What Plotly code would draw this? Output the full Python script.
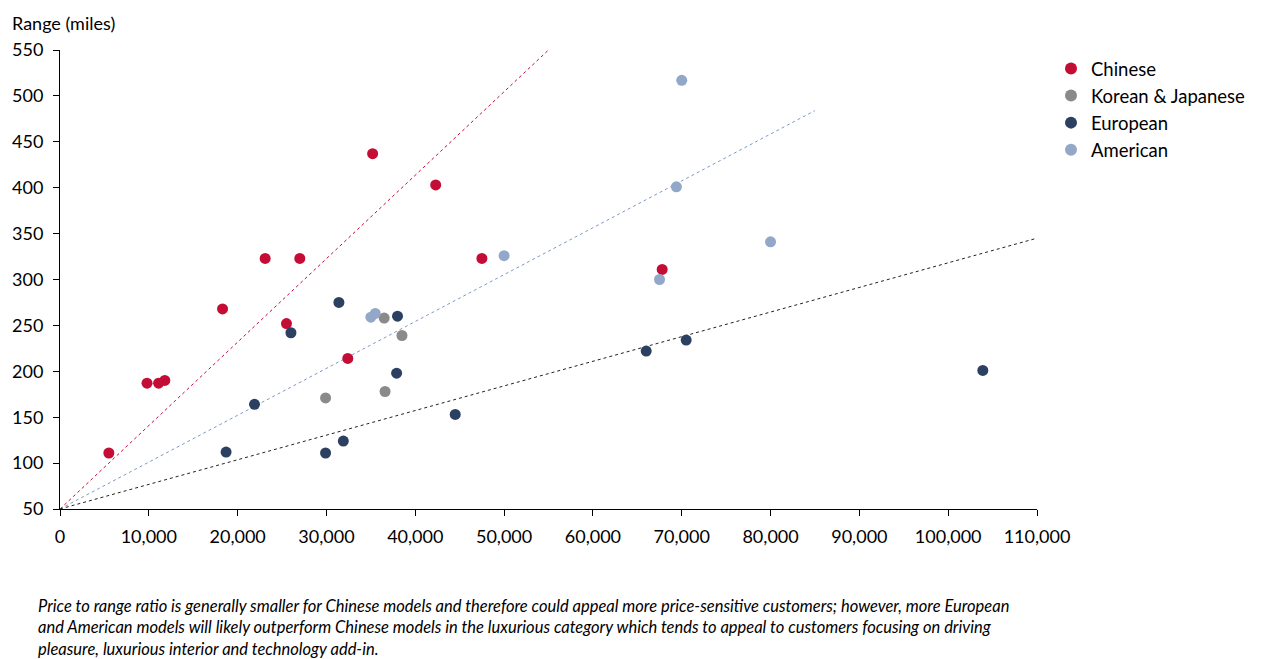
import plotly.graph_objects as go

# ---- data ----
chinese_price = [5500, 9800, 11100, 11800, 18300, 23100, 27000, 25500, 35200, 32400, 42300, 47500, 67800]
chinese_range = [111, 187, 187, 190, 268, 323, 323, 252, 437, 214, 403, 323, 311]

kj_price = [29900, 36500, 38500, 36600]
kj_range = [171, 258, 239, 178]

eu_price = [18700, 21900, 26000, 31400, 29900, 31900, 38000, 37900, 44500, 66000, 70500, 103900]
eu_range = [112, 164, 242, 275, 111, 124, 260, 198, 153, 222, 234, 201]

us_price = [35000, 35500, 50000, 70000, 69400, 80000, 67500]
us_range = [259, 263, 326, 517, 401, 341, 300]

# trend lines (start, end)
chinese_line_x = [0, 55000]
chinese_line_y = [50, 550]
us_line_x = [0, 85000]
us_line_y = [50, 484]
overall_line_x = [0, 110000]
overall_line_y = [50, 345]

x_ticks = list(range(0, 110001, 10000))
y_ticks = list(range(50, 551, 50))

footnote = ("Price to range ratio is generally smaller for Chinese models and therefore could appeal more price-sensitive customers; however, more European<br>"
            "and American models will likely outperform Chinese models in the luxurious category which tends to appeal to customers focusing on driving<br>"
            "pleasure, luxurious interior and technology add-in.")

RED = "#C30D35"
GRAY = "#8A8A8A"
NAVY = "#2C4162"
LBLUE = "#93A8C8"
FONT = "Lato"

# page body has an 8px margin, so the figure is drawn 8px smaller and shifted
W, H = 1253, 651
L, R, T, B = 52, 224, 42, 150
PW = W - L - R
PH = H - T - B

fig = go.Figure()

fig.add_trace(go.Scatter(x=chinese_line_x, y=chinese_line_y, mode="lines",
                         line=dict(color=RED, width=1, dash="dot"), showlegend=False, hoverinfo="skip"))
fig.add_trace(go.Scatter(x=us_line_x, y=us_line_y, mode="lines",
                         line=dict(color="#8099C4", width=1, dash="dot"), showlegend=False, hoverinfo="skip"))
fig.add_trace(go.Scatter(x=overall_line_x, y=overall_line_y, mode="lines",
                         line=dict(color="#222222", width=1, dash="dot"), showlegend=False, hoverinfo="skip"))

for name, xs, ys, c in [("Chinese", chinese_price, chinese_range, RED),
                        ("Korean & Japanese", kj_price, kj_range, GRAY),
                        ("European", eu_price, eu_range, NAVY),
                        ("American", us_price, us_range, LBLUE)]:
    fig.add_trace(go.Scatter(x=xs, y=ys, mode="markers", name=name,
                             marker=dict(color=c, size=11)))

fig.update_layout(
    width=W, height=H,
    paper_bgcolor="white", plot_bgcolor="white",
    margin=dict(l=L, r=R, t=T, b=B, autoexpand=False),
    font=dict(family=FONT, size=18, color="#000000"),
    legend=dict(x=(1043 - L) / PW, y=1.0, xanchor="left", yanchor="top",
                font=dict(size=18.5), itemsizing="constant", tracegroupgap=0,
                bgcolor="rgba(0,0,0,0)"),
    xaxis=dict(range=[0, 110000], tickvals=x_ticks, tickformat=",", automargin=False,
               showgrid=False, zeroline=False, showline=True, linecolor="#000000", linewidth=1,
               ticks="outside", ticklen=6, tickcolor="#000000", tickfont=dict(size=18),
               ticklabelstandoff=5),
    yaxis=dict(range=[50, 550], tickvals=y_ticks, automargin=False,
               showgrid=False, zeroline=False, showline=True, linecolor="#000000", linewidth=1,
               ticks="outside", ticklen=6, tickcolor="#000000", tickfont=dict(size=18),
               ticklabelstandoff=6),
    annotations=[
        dict(text="Range (miles)", xref="paper", yref="paper", x=(2 - L) / PW, y=(T + PH - 2) / PH,
             xanchor="left", yanchor="top", showarrow=False, font=dict(size=18)),
        dict(text="<i>" + footnote + "</i>", xref="paper", yref="paper", x=(28 - L) / PW,
             y=(T + PH - 586) / PH, xanchor="left", yanchor="top", align="left", showarrow=False,
             font=dict(size=16.5)),
    ],
)

fig.write_html("out.html")
